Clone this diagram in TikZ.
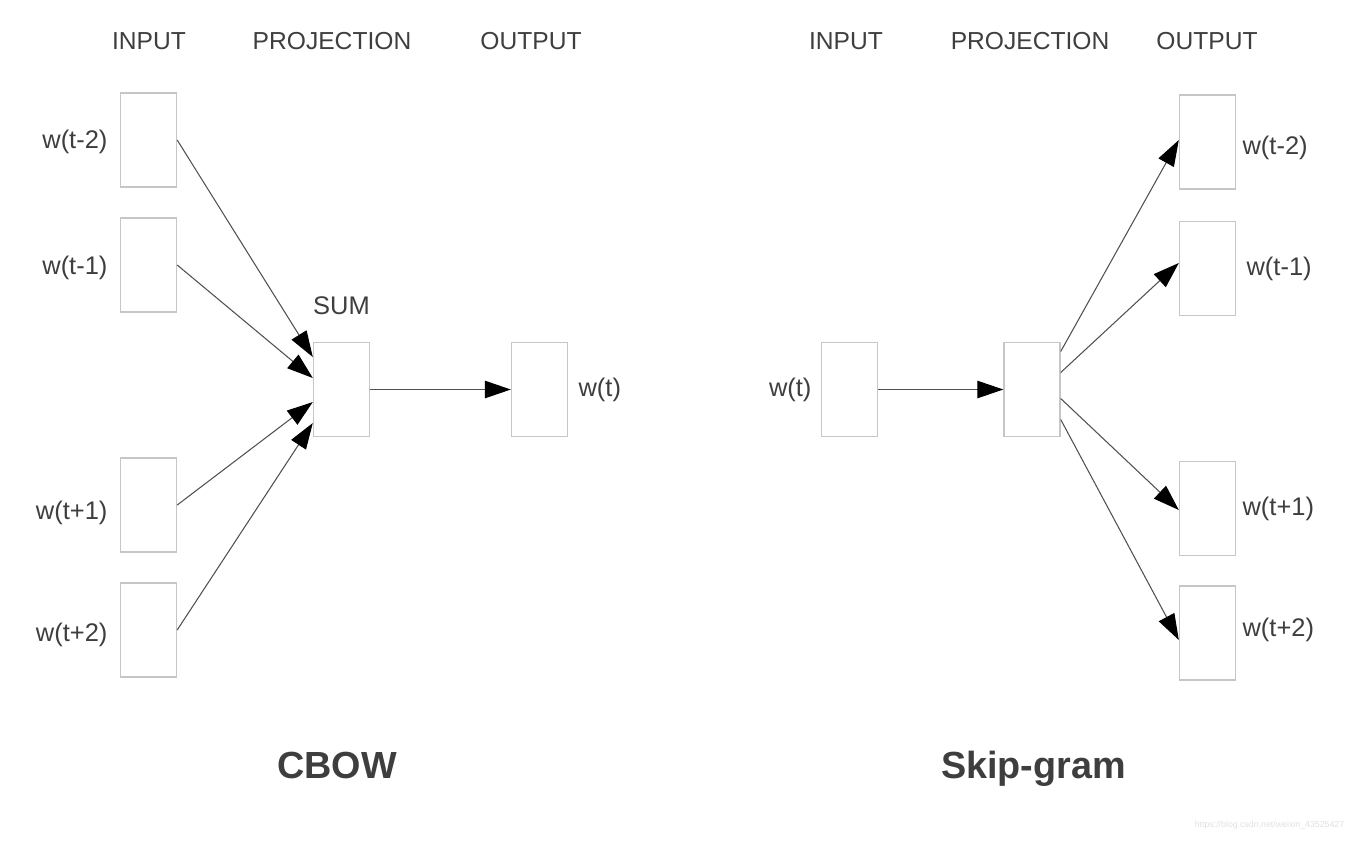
\documentclass[tikz,border=0pt]{standalone}
\usepackage{fontspec}
\setmainfont{Liberation Sans}
\usetikzlibrary{arrows.meta,positioning}

\definecolor{boxgray}{HTML}{C6C6C6}
\definecolor{linegray}{HTML}{505050}
\definecolor{textgray}{HTML}{3E3E3E}

\begin{document}
\begin{tikzpicture}[x=0.02cm,y=-0.02cm,
  wbox/.style={draw=boxgray,line width=0.8pt,minimum width=1.12cm,minimum height=1.88cm,inner sep=0pt},
  head/.style={text=textgray,anchor=base,inner sep=0pt,font=\fontsize{14}{16}\selectfont},
  word/.style={text=textgray,inner sep=0pt,font=\fontsize{14.5}{17}\selectfont},
  title/.style={text=textgray,anchor=base,inner sep=0pt,font=\fontsize{21.5}{25}\selectfont\bfseries},
  arr/.style={draw=linegray,line width=0.6pt,-{Triangle[length=0.52cm,width=0.35cm,color=black]}}]
  \useasboundingbox (0,0) rectangle (1358,840);

  % CBOW
  \node[head] (hin1) at (149,49) {INPUT};
  \node[head] (hproj1) at (332,49) {PROJECTION};
  \node[head] (hout1) at (531,49) {OUTPUT};

  \node[wbox] (in1) at (148.5,140) {};
  \node[wbox] (in2) at (148.5,265) {};
  \node[wbox] (in3) at (148.5,505) {};
  \node[wbox] (in4) at (148.5,630) {};
  \node[wbox] (sum) at (341.5,389.5) {};
  \node[wbox] (out) at (539.5,389.5) {};

  \node[word,left=0.24cm of in1,yshift=-0.04cm] (lin1) {w(t-2)};
  \node[word,left=0.24cm of in2,yshift=-0.06cm] (lin2) {w(t-1)};
  \node[word,left=0.24cm of in3,yshift=-0.16cm] (lin3) {w(t+1)};
  \node[word,left=0.24cm of in4,yshift=-0.1cm] (lin4) {w(t+2)};
  \node[word,above=0.54cm of sum] (lsum) {SUM};
  \node[word,right=0.2cm of out] (lout) {w(t)};

  \draw[arr] (in1.east) -- ([yshift=0.65cm]sum.west);
  \draw[arr] (in2.east) -- ([yshift=0.23cm]sum.west);
  \draw[arr] (in3.east) -- ([yshift=-0.25cm]sum.west);
  \draw[arr] (in4.east) -- ([yshift=-0.67cm]sum.west);
  \draw[arr] (sum.east) -- (out.west);

  \node[title] (tcbow) at (337,778) {CBOW};

  % Skip-gram
  \node[head] (hin2) at (846,49) {INPUT};
  \node[head] (hproj2) at (1030,49) {PROJECTION};
  \node[head] (hout2) at (1207,49) {OUTPUT};

  \node[wbox] (win) at (849.5,389.5) {};
  \node[wbox] (proj) at (1032,389.5) {};
  \node[wbox] (o1) at (1207.5,142) {};
  \node[wbox] (o2) at (1207.5,268.5) {};
  \node[wbox] (o3) at (1207.5,508.5) {};
  \node[wbox] (o4) at (1207.5,633) {};

  \node[word,left=0.18cm of win] (lwin) {w(t)};
  \node[word,right=0.12cm of o1,yshift=-0.12cm] (lo1) {w(t-2)};
  \node[word,right=0.2cm of o2] (lo2) {w(t-1)};
  \node[word,right=0.12cm of o3] (lo3) {w(t+1)};
  \node[word,right=0.12cm of o4,yshift=0.06cm] (lo4) {w(t+2)};

  \draw[arr] (win.east) -- (proj.west);
  \draw[arr] ([yshift=0.76cm]proj.east) -- ([yshift=0.04cm]o1.west);
  \draw[arr] ([yshift=0.34cm]proj.east) -- ([yshift=0.11cm]o2.west);
  \draw[arr] ([yshift=-0.18cm]proj.east) -- ([yshift=-0.03cm]o3.west);
  \draw[arr] ([yshift=-0.6cm]proj.east) -- ([yshift=-0.14cm]o4.west);

  \node[title] (tskip) at (1033.5,778) {Skip-gram};

  \node[text=black!12,inner sep=0pt,font=\fontsize{5}{6}\selectfont] (wmark) at (1269.5,825) {https://blog.csdn.net/weixin\_43525427};
\end{tikzpicture}
\end{document}
